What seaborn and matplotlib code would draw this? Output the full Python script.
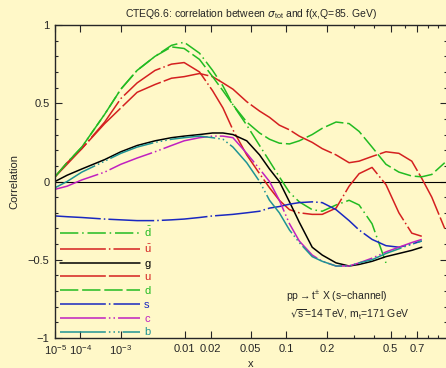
import numpy as np
import pandas as pd
import matplotlib
matplotlib.use("Agg")
import matplotlib.pyplot as plt
import seaborn as sns

sns.set_style("ticks")
plt.rcParams['font.family'] = ['Liberation Sans', 'DejaVu Sans']
plt.rcParams['mathtext.default'] = 'regular'

# x grid (momentum fraction)
x = [1e-5, 3.4e-5, 1.1e-4, 4.5e-4, 1.0e-3, 2.0e-3, 3.9e-3, 6.7e-3, 0.0098, 0.015,
     0.021, 0.027, 0.034, 0.046, 0.060, 0.073, 0.088, 0.106, 0.126, 0.157,
     0.185, 0.230, 0.280, 0.324, 0.389, 0.470, 0.557, 0.656, 0.742, 0.837, 0.974]
nan = np.nan
dbar = [0.03, 0.12, 0.22, 0.43, 0.59, 0.71, 0.80, 0.87, 0.89, 0.82,
        0.71, 0.61, 0.49, 0.36, 0.23, 0.13, 0.03, -0.07, -0.13, -0.18,
        -0.19, -0.15, -0.12, -0.15, -0.27, -0.52, nan, nan, nan, nan, nan]
ubar = [0.03, 0.12, 0.21, 0.38, 0.53, 0.63, 0.71, 0.75, 0.76, 0.70,
        0.58, 0.47, 0.33, 0.17, 0.05, -0.04, -0.12, -0.18, -0.20, -0.21,
        -0.21, -0.17, -0.03, 0.05, 0.09, -0.02, -0.20, -0.33, -0.35, nan, nan]
g = [0.0, 0.04, 0.08, 0.14, 0.19, 0.23, 0.26, 0.28, 0.29, 0.30,
     0.31, 0.31, 0.30, 0.26, 0.17, 0.08, 0.0, -0.13, -0.26, -0.42,
     -0.47, -0.52, -0.54, -0.53, -0.51, -0.48, -0.46, -0.44, -0.42, nan, nan]
u = [0.03, 0.11, 0.21, 0.37, 0.47, 0.57, 0.62, 0.66, 0.67, 0.69,
     0.67, 0.63, 0.59, 0.51, 0.45, 0.41, 0.36, 0.33, 0.29, 0.25,
     0.21, 0.17, 0.12, 0.13, 0.16, 0.19, 0.18, 0.13, 0.02, -0.10, -0.30]
d = [0.03, 0.12, 0.22, 0.43, 0.59, 0.71, 0.80, 0.86, 0.85, 0.78,
     0.67, 0.58, 0.49, 0.38, 0.31, 0.27, 0.245, 0.24, 0.26, 0.30,
     0.34, 0.38, 0.37, 0.32, 0.22, 0.11, 0.06, 0.035, 0.03, 0.045, 0.12]
s = [-0.22, -0.225, -0.23, -0.24, -0.245, -0.25, -0.25, -0.245, -0.24, -0.23,
     -0.22, -0.215, -0.21, -0.20, -0.19, -0.17, -0.16, -0.145, -0.135, -0.13,
     -0.135, -0.18, -0.25, -0.31, -0.37, -0.41, -0.42, -0.40, -0.38, nan, nan]
c = [-0.05, -0.03, 0.01, 0.06, 0.11, 0.15, 0.19, 0.23, 0.26, 0.28,
     0.29, 0.29, 0.28, 0.18, 0.08, 0.0, -0.12, -0.27, -0.38, -0.47,
     -0.51, -0.54, -0.54, -0.52, -0.49, -0.45, -0.42, -0.39, -0.37, nan, nan]
b = [-0.04, 0.0, 0.06, 0.13, 0.18, 0.22, 0.25, 0.27, 0.28, 0.29,
     0.28, 0.27, 0.22, 0.12, 0.0, -0.12, -0.20, -0.31, -0.39, -0.48,
     -0.51, -0.54, -0.54, -0.52, -0.50, -0.46, -0.43, -0.40, -0.38, nan, nan]

labels = [r'$\bar{d}$', r'$\bar{u}$', 'g', 'u', 'd', 's', 'c', 'b']
series = [dbar, ubar, g, u, d, s, c, b]
colors = ['#22bb22', '#d42020', '#000000', '#d42020', '#22bb22', '#1a28c0', '#c020c0', '#1f9494']
dashes = [(12, 2.5, 1, 2.5), (30, 2, 1, 2), None, (30, 2), (12, 2.5),
          (30, 2, 1, 2), (30, 2, 1, 2, 1, 2), (30, 2, 1, 2, 1, 2, 1, 2)]

xticks = [1e-5, 1e-4, 1e-3, 0.01, 0.02, 0.05, 0.1, 0.2, 0.5, 0.7]
xticklabels = [r'$10^{-5}$', r'$10^{-4}$', r'$10^{-3}$', '0.01', '0.02', '0.05', '0.1', '0.2', '0.5', '0.7']
yticks = [-1, -0.5, 0, 0.5, 1]
yticklabels = ['\u22121', '\u22120.5', '0', '0.5', '1']

bg = '#fff8c8'
fig = plt.figure(figsize=(4.46, 3.68), dpi=100, facecolor=bg)
ax = fig.add_axes([55 / 446, 1 - 338 / 368, 392 / 446, 313 / 368])
ax.set_facecolor(bg)

fwd = lambda v: np.sign(v) * np.abs(v) ** 0.2
inv = lambda w: np.sign(w) * np.abs(w) ** 5
ax.set_xscale('function', functions=(fwd, inv))

ax.axhline(0, color='black', lw=0.8, zorder=1)

for lab, ys, col, ds in zip(labels, series, colors, dashes):
    df = pd.DataFrame({'x': x, 'y': ys}).dropna()
    sns.lineplot(data=df, x='x', y='y', ax=ax, color=col, lw=1.1, label=lab,
                 sort=False, estimator=None)
    line = ax.lines[-1]
    if ds is not None:
        line.set_dashes(ds)

ax.set_xlim(1e-5, 1)
ax.set_ylim(-1, 1)
ax.set_xticks(xticks)
ax.set_xticklabels(xticklabels)
ax.set_xticks([0.3, 0.4, 0.6, 0.8, 0.9], minor=True)
ax.set_yticks(yticks)
ax.set_yticklabels(yticklabels)
ax.set_yticks(np.arange(-1, 1.01, 0.1), minor=True)
ax.tick_params(which='both', direction='in', top=True, right=True, labelsize=8, width=0.8)
ax.tick_params(which='major', length=5, pad=4)
ax.tick_params(which='minor', length=2.5)
for sp in ax.spines.values():
    sp.set_linewidth(1.0)

ax.set_xlabel('x', fontsize=8, labelpad=1)
ax.set_ylabel('Correlation', fontsize=8, labelpad=6)
ax.set_title(r'CTEQ6.6: correlation between $\mathit{\sigma}_{tot}$ and f(x,Q=85. GeV)', fontsize=7.5, pad=6)

leg = ax.legend(loc='upper left', bbox_to_anchor=(0.012, 0.362), frameon=False, fontsize=8,
                handlelength=7.2, handletextpad=0.4, labelspacing=0.34, borderpad=0,
                borderaxespad=0, labelcolor='linecolor')

ax.text(0.59, 0.122, r'pp$\rightarrow$t$^{\pm}$ X (s$-$channel)', transform=ax.transAxes, fontsize=7.5)
ax.text(0.60, 0.062, r'$\sqrt{s}$=14 TeV, m$_t$=171 GeV', transform=ax.transAxes, fontsize=7.5)

fig.savefig('out.png', dpi=100, facecolor=bg)
